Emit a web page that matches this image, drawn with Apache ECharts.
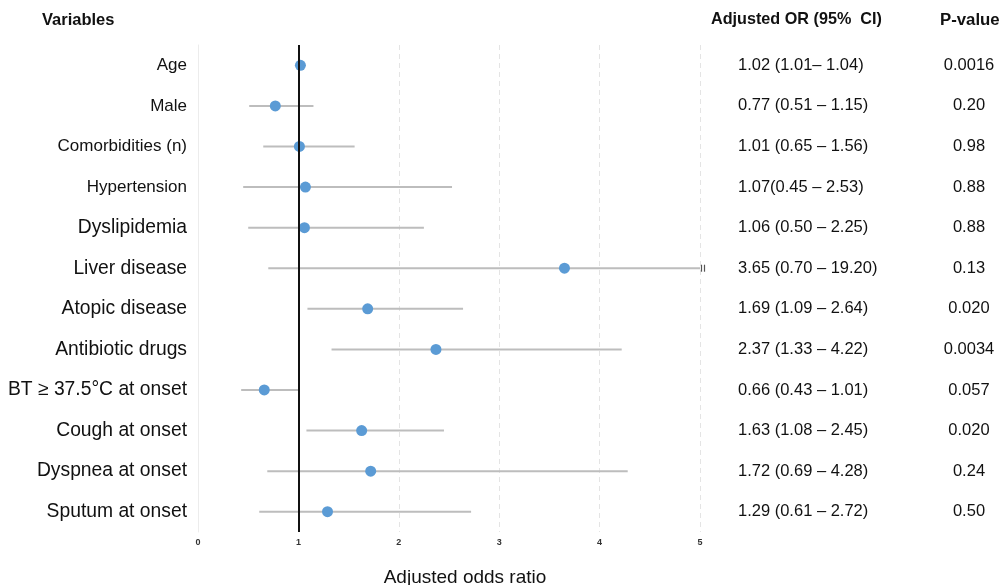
<!DOCTYPE html>
<html>
<head>
<meta charset="utf-8">
<script src="https://cdn.jsdelivr.net/npm/echarts@6/dist/echarts.min.js"></script>
<style>
  html, body { margin: 0; padding: 0; background: #fff; }
  #main { width: 1001px; height: 585px; }
</style>
</head>
<body>
<div id="main"></div>
<script>
// forest plot data
var variables = ['Age', 'Male', 'Comorbidities (n)', 'Hypertension', 'Dyslipidemia', 'Liver disease',
  'Atopic disease', 'Antibiotic drugs', 'BT \u2265 37.5\u00b0C at onset', 'Cough at onset', 'Dyspnea at onset', 'Sputum at onset'];
var orValues = [1.02, 0.77, 1.01, 1.07, 1.06, 3.65, 1.69, 2.37, 0.66, 1.63, 1.72, 1.29];
var ciLow = [1.01, 0.51, 0.65, 0.45, 0.50, 0.70, 1.09, 1.33, 0.43, 1.08, 0.69, 0.61];
var ciHigh = [1.04, 1.15, 1.56, 2.53, 2.25, 19.20, 2.64, 4.22, 1.01, 2.45, 4.28, 2.72];
var orText = ['1.02 (1.01\u2013 1.04)', '0.77 (0.51 \u2013 1.15)', '1.01 (0.65 \u2013 1.56)', '1.07(0.45 \u2013 2.53)',
  '1.06 (0.50 \u2013 2.25)', '3.65 (0.70 \u2013 19.20)', '1.69 (1.09 \u2013 2.64)', '2.37 (1.33 \u2013 4.22)',
  '0.66 (0.43 \u2013 1.01)', '1.63 (1.08 \u2013 2.45)', '1.72 (0.69 \u2013 4.28)', '1.29 (0.61 \u2013 2.72)'];
var pText = ['0.0016', '0.20', '0.98', '0.88', '0.88', '0.13', '0.020', '0.0034', '0.057', '0.020', '0.24', '0.50'];
var xTicks = [0, 1, 2, 3, 4, 5];

var xMax = 5;
var font = '"Liberation Sans", Arial, sans-serif';

var chart = echarts.init(document.getElementById('main'));

var ciData = variables.map(function (v, i) { return [ciLow[i], ciHigh[i], i]; });
var pointData = variables.map(function (v, i) { return [orValues[i], i]; });

var option = {
  animation: false,
  grid: { left: 198, right: 301, top: 45, bottom: 53, outerBoundsMode: 'none', containLabel: false },
  xAxis: {
    type: 'value', min: 0, max: xMax, interval: 1,
    name: 'Adjusted odds ratio', nameLocation: 'middle', nameGap: 36,
    nameTextStyle: { fontFamily: font, fontSize: 19, color: '#111', padding: [0, 0, 0, 32] },
    axisLine: { show: false }, axisTick: { show: false },
    axisLabel: { fontFamily: font, fontSize: 9, color: '#333', fontWeight: 'bold', margin: 6,
      formatter: function (v) { return xTicks.indexOf(v) >= 0 ? String(v) : ''; } },
    splitLine: { show: true, lineStyle: { color: '#e4e4e4', type: [5, 4], width: 1 } }
  },
  yAxis: [{
    type: 'category', data: variables, inverse: true,
    axisLine: { show: true, lineStyle: { color: '#ececec', width: 1 } },
    axisTick: { show: false },
    axisLabel: {
      margin: 11,
      formatter: function (v, i) { return '{' + (i < 4 ? 'sm' : 'lg') + '|' + v + '}'; },
      rich: {
        sm: { fontFamily: font, fontSize: 17, color: '#111' },
        lg: { fontFamily: font, fontSize: 19.3, color: '#111' }
      }
    },
    splitLine: { show: false }
  }, {
    type: 'category', data: orText, inverse: true, position: 'right',
    axisLine: { show: false }, axisTick: { show: false },
    axisLabel: { fontFamily: font, fontSize: 16.5, color: '#111', margin: 38, align: 'left' }
  }, {
    type: 'category', data: pText, inverse: true, position: 'right', offset: 0,
    axisLine: { show: false }, axisTick: { show: false },
    axisLabel: { fontFamily: font, fontSize: 16.5, color: '#111', margin: 269, align: 'center' }
  }],
  graphic: [
    { type: 'text', left: 42, top: 12, style: { text: 'Variables', font: 'bold 16.5px ' + font, fill: '#111' } },
    { type: 'text', left: 711, top: 12, style: { text: 'Adjusted OR (95%  CI)', font: 'bold 16.2px ' + font, fill: '#111' } },
    { type: 'text', left: 940, top: 12, style: { text: 'P-value', font: 'bold 16.8px ' + font, fill: '#111' } }
  ],
  series: [{
    type: 'custom',
    renderItem: function (params, api) {
      var lo = api.value(0), hi = api.value(1), row = api.value(2);
      var clipped = hi > xMax;
      var p1 = api.coord([lo, row]);
      var p2 = api.coord([clipped ? xMax : hi, row]);
      var children = [{
        type: 'line',
        shape: { x1: p1[0], y1: p1[1], x2: p2[0], y2: p2[1] },
        style: { stroke: '#bdbdbd', lineWidth: 2 }
      }];
      if (clipped) {
        [1.5, 4.5].forEach(function (dx) {
          children.push({
            type: 'line',
            shape: { x1: p2[0] + dx, y1: p2[1] - 3.5, x2: p2[0] + dx, y2: p2[1] + 3.5 },
            style: { stroke: '#555', lineWidth: 1.2 }
          });
        });
      }
      return { type: 'group', children: children };
    },
    encode: { x: [0, 1], y: 2 },
    data: ciData,
    z: 2
  }, {
    type: 'line',
    data: [],
    markLine: {
      silent: true, symbol: 'none', label: { show: false },
      lineStyle: { color: '#111', type: 'solid', width: 2 },
      data: [{ xAxis: 1 }]
    },
    z: 3
  }, {
    type: 'scatter',
    data: pointData,
    symbolSize: 11,
    itemStyle: { color: '#5b9bd5', opacity: 1 },
    z: 4
  }]
};

chart.setOption(option);
</script>
</body>
</html>
